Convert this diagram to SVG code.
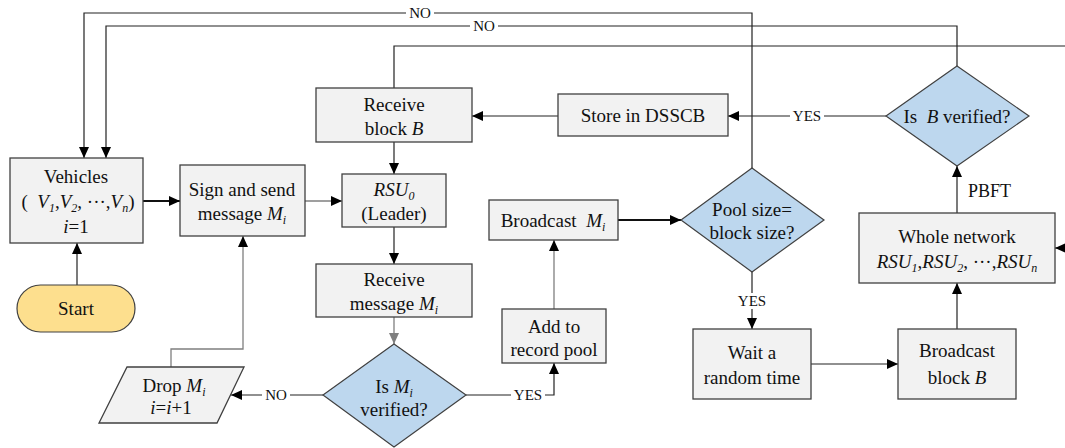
<svg xmlns="http://www.w3.org/2000/svg" width="1065" height="448" viewBox="0 0 1065 448">
<defs>
<marker id="ah" markerUnits="userSpaceOnUse" markerWidth="12" markerHeight="10" refX="11" refY="5" orient="auto">
<path d="M0,0 L11,5 L0,10 Z" fill="#000"/>
</marker>
<marker id="ahg" markerUnits="userSpaceOnUse" markerWidth="12" markerHeight="10" refX="11" refY="5" orient="auto">
<path d="M0,0 L11,5 L0,10 Z" fill="#7f7f7f"/>
</marker>
<style>
.box{fill:#f2f2f2;stroke:#404040;stroke-width:1.3}
.dia{fill:#bdd7ee;stroke:#404040;stroke-width:1.2}
.start{fill:#fddf8e;stroke:#404040;stroke-width:1.2}
.t{font-size:19px;fill:#111;text-anchor:middle}
.lbl{font-size:15px;fill:#111;text-anchor:middle}
.pb{font-size:18px;fill:#111;text-anchor:start}
.it{font-style:italic}
.sub{font-style:italic;font-size:12px}
.c{fill:none;stroke:#222;stroke-width:1.2}
.cg{fill:none;stroke:#7f7f7f;stroke-width:1.3}
.ct{fill:none;stroke:#111;stroke-width:1.8}
.lb{fill:#fff}
</style>
</defs>
<g id="connectors">
<polyline class="c" points="752,168 752,13 84,13 84,158" marker-end="url(#ah)"/>
<polyline class="c" points="957,66 957,26 106,26 106,158" marker-end="url(#ah)"/>
<polyline class="c" points="394,88 394,46 1066,46"/>
<line class="c" x1="1066" y1="248" x2="1055" y2="248" marker-end="url(#ah)"/>
<line class="c" x1="77" y1="285" x2="77" y2="243" marker-end="url(#ah)"/>
<line class="ct" x1="143" y1="201" x2="180" y2="201" marker-end="url(#ah)"/>
<line class="cg" x1="305" y1="201" x2="342" y2="201" marker-end="url(#ah)"/>
<line class="c" x1="394" y1="142" x2="394" y2="174" marker-end="url(#ah)"/>
<line class="c" x1="394" y1="227" x2="394" y2="264" marker-end="url(#ah)"/>
<line class="cg" x1="394" y1="317" x2="394" y2="344" marker-end="url(#ahg)"/>
<polyline class="cg" points="171,367 171,349 243,349 243,236" marker-end="url(#ah)"/>
<line class="c" x1="323" y1="395" x2="231" y2="395" marker-end="url(#ah)"/>
<polyline class="c" points="466,395 554,395 554,363" marker-end="url(#ah)"/>
<line class="cg" x1="554" y1="309" x2="554" y2="240" marker-end="url(#ah)"/>
<line class="ct" x1="618" y1="220" x2="681" y2="220" marker-end="url(#ah)"/>
<line class="c" x1="752" y1="272" x2="752" y2="329" marker-end="url(#ah)"/>
<line class="c" x1="811" y1="364" x2="898" y2="364" marker-end="url(#ah)"/>
<line class="c" x1="957" y1="329" x2="957" y2="283" marker-end="url(#ah)"/>
<line class="c" x1="957" y1="213" x2="957" y2="166" marker-end="url(#ah)"/>
<line class="c" x1="886" y1="116" x2="728" y2="116" marker-end="url(#ah)"/>
<line class="c" x1="558" y1="116" x2="472" y2="116" marker-end="url(#ah)"/>
<rect class="lb" x="406" y="5" width="28" height="16"/>
<text style="font-family:'Liberation Serif'" class="lbl" x="420" y="18">NO</text>
<rect class="lb" x="470" y="18" width="28" height="16"/>
<text style="font-family:'Liberation Serif'" class="lbl" x="484" y="31">NO</text>
<rect class="lb" x="790" y="108" width="34" height="16"/>
<text style="font-family:'Liberation Serif'" class="lbl" x="807" y="121">YES</text>
<rect class="lb" x="262" y="387" width="28" height="16"/>
<text style="font-family:'Liberation Serif'" class="lbl" x="276" y="400">NO</text>
<rect class="lb" x="511" y="387" width="34" height="16"/>
<text style="font-family:'Liberation Serif'" class="lbl" x="528" y="400">YES</text>
<rect class="lb" x="735" y="293" width="34" height="16"/>
<text style="font-family:'Liberation Serif'" class="lbl" x="752" y="306">YES</text>
<text style="font-family:'Liberation Serif'" class="pb" x="968" y="197">PBFT</text>
</g>
<g id="start">
<rect class="start" x="17" y="285" width="118" height="47" rx="23.5"/>
<text style="font-family:'Liberation Serif'" class="t" x="76" y="315">Start</text>
</g>
<g id="vehicles">
<rect class="box" x="10" y="158" width="133" height="85"/>
<text style="font-family:'Liberation Serif'" class="t" x="76" y="183">Vehicles</text>
<text style="font-family:'Liberation Serif'" class="t" x="78" y="208" xml:space="preserve">(  <tspan class="it">V</tspan><tspan class="sub" dy="4">1</tspan><tspan dy="-4">,</tspan><tspan class="it">V</tspan><tspan class="sub" dy="4">2</tspan><tspan dy="-4">, ···,</tspan><tspan class="it">V</tspan><tspan class="sub" dy="4">n</tspan><tspan dy="-4">)</tspan></text>
<text style="font-family:'Liberation Serif'" class="t" x="76" y="233"><tspan class="it">i</tspan>=1</text>
</g>
<g id="sign">
<rect class="box" x="180" y="165" width="125" height="71"/>
<text style="font-family:'Liberation Serif'" class="t" x="242" y="196">Sign and send</text>
<text style="font-family:'Liberation Serif'" class="t" x="242" y="220">message <tspan class="it">M</tspan><tspan class="sub" dy="4">i</tspan></text>
</g>
<g id="rsu0">
<rect class="box" x="342" y="174" width="104" height="53"/>
<text style="font-family:'Liberation Serif'" class="t" x="394" y="196"><tspan class="it">RSU</tspan><tspan class="sub" dy="4">0</tspan></text>
<text style="font-family:'Liberation Serif'" class="t" x="394" y="220">(Leader)</text>
</g>
<g id="receive-block">
<rect class="box" x="316" y="88" width="156" height="54"/>
<text style="font-family:'Liberation Serif'" class="t" x="394" y="111">Receive</text>
<text style="font-family:'Liberation Serif'" class="t" x="394" y="135">block <tspan class="it">B</tspan></text>
</g>
<g id="store">
<rect class="box" x="558" y="94" width="170" height="42"/>
<text style="font-family:'Liberation Serif'" class="t" x="643" y="122">Store in DSSCB</text>
</g>
<g id="is-b-verified">
<polygon class="dia" points="957,66 1029,116 957,166 886,116"/>
<text style="font-family:'Liberation Serif'" class="t" x="957" y="123" xml:space="preserve">Is  <tspan class="it">B</tspan> verified?</text>
</g>
<g id="receive-message">
<rect class="box" x="316" y="264" width="156" height="53"/>
<text style="font-family:'Liberation Serif'" class="t" x="394" y="286">Receive</text>
<text style="font-family:'Liberation Serif'" class="t" x="394" y="310">message <tspan class="it">M</tspan><tspan class="sub" dy="4">i</tspan></text>
</g>
<g id="is-m-verified">
<polygon class="dia" points="394,344 466,395 394,447 323,395"/>
<text style="font-family:'Liberation Serif'" class="t" x="394" y="393">Is <tspan class="it">M</tspan><tspan class="sub" dy="4">i</tspan></text>
<text style="font-family:'Liberation Serif'" class="t" x="394" y="416">verified?</text>
</g>
<g id="drop">
<polygon class="box" points="127,367 244,367 217,423 99,423"/>
<text style="font-family:'Liberation Serif'" class="t" x="174" y="392">Drop <tspan class="it">M</tspan><tspan class="sub" dy="4">i</tspan></text>
<text style="font-family:'Liberation Serif'" class="t" x="171" y="414"><tspan class="it">i</tspan>=<tspan class="it">i</tspan>+1</text>
</g>
<g id="add-record">
<rect class="box" x="502" y="309" width="104" height="54"/>
<text style="font-family:'Liberation Serif'" class="t" x="554" y="333">Add to</text>
<text style="font-family:'Liberation Serif'" class="t" x="554" y="356">record pool</text>
</g>
<g id="broadcast-m">
<rect class="box" x="489" y="200" width="129" height="40"/>
<text style="font-family:'Liberation Serif'" class="t" x="553" y="227" xml:space="preserve">Broadcast  <tspan class="it">M</tspan><tspan class="sub" dy="4">i</tspan></text>
</g>
<g id="pool-size">
<polygon class="dia" points="752,168 824,220 752,272 681,220"/>
<text style="font-family:'Liberation Serif'" class="t" x="752" y="216">Pool size=</text>
<text style="font-family:'Liberation Serif'" class="t" x="752" y="239">block size?</text>
</g>
<g id="wait">
<rect class="box" x="693" y="329" width="118" height="70"/>
<text style="font-family:'Liberation Serif'" class="t" x="752" y="359">Wait a</text>
<text style="font-family:'Liberation Serif'" class="t" x="752" y="384">random time</text>
</g>
<g id="broadcast-block">
<rect class="box" x="898" y="329" width="118" height="70"/>
<text style="font-family:'Liberation Serif'" class="t" x="957" y="357">Broadcast</text>
<text style="font-family:'Liberation Serif'" class="t" x="957" y="384">block <tspan class="it">B</tspan></text>
</g>
<g id="whole-network">
<rect class="box" x="859" y="213" width="196" height="70"/>
<text style="font-family:'Liberation Serif'" class="t" x="957" y="243">Whole network</text>
<text style="font-family:'Liberation Serif'" class="t" x="957" y="268"><tspan class="it">RSU</tspan><tspan class="sub" dy="4">1</tspan><tspan dy="-4">,</tspan><tspan class="it">RSU</tspan><tspan class="sub" dy="4">2</tspan><tspan dy="-4">, ···,</tspan><tspan class="it">RSU</tspan><tspan class="sub" dy="4">n</tspan></text>
</g>
</svg>
